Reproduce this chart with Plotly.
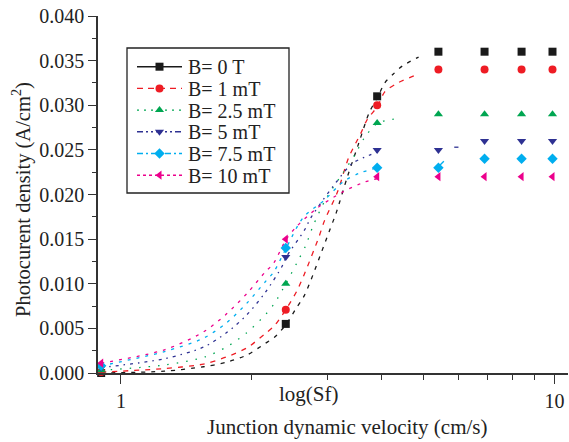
import plotly.graph_objects as go
import math

# ---------------- data ----------------
labels = ["B= 0 T", "B= 1 mT", "B= 2.5 mT", "B= 5 mT", "B= 7.5 mT", "B= 10 mT"]

marker_x = [0.9, 2.4, 3.9, 5.4, 6.9, 8.4, 9.9]
marker_y_0T = [0.0000, 0.0055, 0.0310, 0.0360, 0.0360, 0.0360, 0.0360]
marker_y_1mT = [0.0001, 0.0071, 0.0300, 0.0340, 0.0340, 0.0340, 0.0340]
marker_y_2_5mT = [0.0003, 0.0100, 0.0280, 0.0290, 0.0290, 0.0290, 0.0290]
marker_y_5mT = [0.0006, 0.0130, 0.0250, 0.0250, 0.0260, 0.0260, 0.0260]
marker_y_7_5mT = [0.0008, 0.0140, 0.0230, 0.0230, 0.0240, 0.0240, 0.0240]
marker_y_10mT = [0.0011, 0.0150, 0.0220, 0.0220, 0.0220, 0.0220, 0.0220]

curve_x_0T = [0.9, 1.26, 1.55, 1.75, 1.95, 2.15, 2.26, 2.40, 2.54, 2.65, 3.03, 3.14, 3.33, 3.54, 3.74, 3.91, 4.06, 4.25, 4.46, 4.86]
curve_y_0T = [0.0, 0.0002, 0.0007, 0.0012, 0.0020, 0.0033, 0.0040, 0.0054, 0.0073, 0.0087, 0.0160, 0.0180, 0.0220, 0.0258, 0.0292, 0.0309, 0.0325, 0.0335, 0.0344, 0.0354]
curve_x_1mT = [0.9, 1.26, 1.55, 1.75, 1.95, 2.15, 2.26, 2.40, 2.54, 2.65, 2.86, 2.95, 3.16, 3.35, 3.57, 3.70, 3.91, 4.06, 4.35, 4.86]
curve_y_1mT = [0.0001, 0.0005, 0.0010, 0.0018, 0.0028, 0.0044, 0.0053, 0.0071, 0.0091, 0.0111, 0.0152, 0.0171, 0.0203, 0.0241, 0.0268, 0.0284, 0.0299, 0.0315, 0.0325, 0.0335]
curve_x_2_5mT = [0.9, 1.26, 1.56, 1.75, 1.95, 2.16, 2.26, 2.40, 2.55, 2.67, 2.77, 2.97, 3.25, 3.46, 3.65, 3.91, 4.35]
curve_y_2_5mT = [0.0003, 0.0009, 0.0018, 0.0029, 0.0045, 0.0066, 0.0078, 0.0100, 0.0124, 0.0143, 0.0164, 0.0195, 0.0224, 0.0244, 0.0264, 0.0280, 0.0285]
curve_x_5mT = [0.9, 1.26, 1.55, 1.75, 1.95, 2.15, 2.35, 2.40, 2.65, 2.75, 3.14, 3.42, 3.74, 3.91]
curve_y_5mT = [0.0006, 0.0016, 0.0029, 0.0045, 0.0065, 0.0090, 0.0119, 0.0129, 0.0160, 0.0175, 0.0214, 0.0235, 0.0244, 0.0248]
curve_x_7_5mT = [0.9, 1.26, 1.55, 1.75, 1.95, 2.15, 2.25, 2.40, 2.63, 2.95, 3.25, 3.55, 3.91]
curve_y_7_5mT = [0.0008, 0.0024, 0.0039, 0.0056, 0.0078, 0.0102, 0.0113, 0.0139, 0.0174, 0.0194, 0.0214, 0.0224, 0.0230]
curve_x_10mT = [0.9, 1.26, 1.55, 1.75, 1.96, 2.15, 2.25, 2.40, 2.54, 2.84, 3.25, 3.65, 3.91]
curve_y_10mT = [0.0011, 0.0026, 0.0046, 0.0066, 0.0090, 0.0113, 0.0123, 0.0149, 0.0164, 0.0185, 0.0203, 0.0214, 0.0218]

# isolated dots of the curves beyond the 3.9 markers
tail_x_5mT = [5.94]
tail_y_5mT = [0.0253]
tail_x_7_5mT = [5.50]
tail_y_7_5mT = [0.0235]

y_tick_vals = [0.000, 0.005, 0.010, 0.015, 0.020, 0.025, 0.030, 0.035, 0.040]
x_tick_vals = [1, 10]
x_tick_text = ["1", "10"]
x_minor_vals = [2, 3, 4, 5, 6, 7, 8, 9]

# ---------------- styles ----------------
colors = ["#1a1a1a", "#ee1c24", "#00a651", "#2e3192", "#00aeef", "#ec008c"]
symbols = ["square", "circle", "triangle-up", "triangle-down", "diamond", "triangle-left"]
legend_dash = ["solid", "6px,5px", "2px,5px", "6px,3px,2px,3px,2px,3px", "6px,3px,2px,3px", "3px,3px"]
curve_dash = ["4px,6px", "5px,6px", "1.5px,8px", "3px,5px,1.5px,5px", "3px,6px", "3px,6px"]

marker_sets = [marker_y_0T, marker_y_1mT, marker_y_2_5mT, marker_y_5mT, marker_y_7_5mT, marker_y_10mT]
curve_sets = [(curve_x_0T, curve_y_0T), (curve_x_1mT, curve_y_1mT), (curve_x_2_5mT, curve_y_2_5mT),
              (curve_x_5mT, curve_y_5mT), (curve_x_7_5mT, curve_y_7_5mT), (curve_x_10mT, curve_y_10mT)]

FONT = "Liberation Serif"
TXT = "#222"

W, H = 569, 442
L, R, T, B = 98, 1, 16, 69
pw = W - L - R
ph = H - T - B

def px_to_paper_x(px):
    return (px - L) / pw

def px_to_paper_y(py):
    return (H - B - py) / ph

fig = go.Figure()

for i in range(6):
    cx, cy = curve_sets[i]
    fig.add_trace(go.Scatter(x=cx, y=cy, mode="lines",
                             line=dict(color=colors[i], width=1.3, dash=curve_dash[i], shape="spline", smoothing=0.8),
                             showlegend=False, hoverinfo="skip"))

fig.add_trace(go.Scatter(x=tail_x_5mT, y=tail_y_5mT, mode="markers",
                         marker=dict(color=colors[3], symbol="line-ew-open", size=3, line=dict(width=1.3, color=colors[3])),
                         showlegend=False, hoverinfo="skip"))
fig.add_trace(go.Scatter(x=tail_x_7_5mT, y=tail_y_7_5mT, mode="markers",
                         marker=dict(color=colors[4], symbol="line-ne-open", size=4, line=dict(width=1.3, color=colors[4])),
                         showlegend=False, hoverinfo="skip"))

for i in range(6):
    fig.add_trace(go.Scatter(x=marker_x, y=marker_sets[i], mode="markers", name=labels[i],
                             marker=dict(color=colors[i], symbol=symbols[i], size=8),
                             cliponaxis=False, showlegend=False))

# ---------- hand-drawn legend (overlay axes in paper-like 0..1 units) ----------
leg_left, leg_right, leg_top, leg_bottom = 127, 289, 48, 193
row0, row_step = 66.7, 21.7
line_x0, line_x1, text_x = 137, 182, 186
shapes = [dict(type="rect", xref="paper", yref="paper",
               x0=px_to_paper_x(leg_left), x1=px_to_paper_x(leg_right),
               y0=px_to_paper_y(leg_bottom), y1=px_to_paper_y(leg_top),
               line=dict(color=TXT, width=1.3), fillcolor="white", layer="below")]
annotations = []
for i in range(6):
    ry = row0 + row_step * i
    shapes.append(dict(type="line", xref="paper", yref="paper",
                       x0=px_to_paper_x(line_x0), x1=px_to_paper_x(line_x1),
                       y0=px_to_paper_y(ry), y1=px_to_paper_y(ry),
                       line=dict(color=colors[i], width=1.4, dash=legend_dash[i]), layer="above"))
    annotations.append(dict(text=labels[i], xref="paper", yref="paper",
                            x=px_to_paper_x(text_x), y=px_to_paper_y(ry + 0.5),
                            xanchor="left", yanchor="middle", showarrow=False,
                            font=dict(family=FONT, size=20, color=TXT)))
    fig.add_trace(go.Scatter(x=[px_to_paper_x((line_x0 + line_x1) / 2)], y=[px_to_paper_y(ry)],
                             xaxis="x2", yaxis="y2", mode="markers",
                             marker=dict(color=colors[i], symbol=symbols[i], size=8),
                             cliponaxis=False, showlegend=False, hoverinfo="skip"))

annotations += [
    dict(text="log(Sf)", xref="paper", yref="paper", x=px_to_paper_x(309), y=px_to_paper_y(394),
         showarrow=False, xanchor="center", yanchor="middle", font=dict(family=FONT, size=21, color=TXT)),
    dict(text="Junction dynamic velocity (cm/s)", xref="paper", yref="paper",
         x=px_to_paper_x(347), y=px_to_paper_y(427), showarrow=False, xanchor="center", yanchor="middle",
         font=dict(family=FONT, size=21, color=TXT)),
    dict(text="Photocurent density (A/cm<sup>2</sup>)", xref="paper", yref="paper", textangle=-90,
         x=px_to_paper_x(22), y=px_to_paper_y(200), showarrow=False, xanchor="center", yanchor="middle",
         font=dict(family=FONT, size=20.5, color=TXT)),
]

fig.update_layout(
    width=W, height=H,
    margin=dict(l=L, r=R, t=T, b=B, autoexpand=False),
    paper_bgcolor="white", plot_bgcolor="white",
    font=dict(family=FONT, size=18, color=TXT),
    showlegend=False,
    xaxis=dict(type="log", range=[math.log10(0.885), math.log10(10.75)], automargin=False,
               tickvals=x_tick_vals, ticktext=x_tick_text,
               ticks="outside", ticklen=9, tickwidth=1.3, tickcolor="#333",
               minor=dict(tickvals=x_minor_vals, ticks="outside", ticklen=5, tickwidth=1.3, tickcolor="#333"),
               showgrid=False, zeroline=False, showline=True, linecolor="#333", linewidth=1.5,
               tickfont=dict(family=FONT, size=20, color=TXT)),
    yaxis=dict(range=[0, 0.040], tickvals=y_tick_vals, tickformat=".3f", automargin=False,
               ticks="outside", ticklen=8, tickwidth=1.3, tickcolor="#333",
               minor=dict(dtick=0.0025, ticks="outside", ticklen=4, tickwidth=1.3, tickcolor="#333"),
               showgrid=False, zeroline=False, showline=True, linecolor="#333", linewidth=1.5,
               tickfont=dict(family=FONT, size=20, color=TXT)),
    xaxis2=dict(overlaying="x", range=[0, 1], visible=False, fixedrange=True),
    yaxis2=dict(overlaying="y", range=[0, 1], visible=False, fixedrange=True),
    shapes=shapes,
    annotations=annotations,
)

fig.write_html("out.html", config={"displayModeBar": False},
               post_script="document.body.style.margin='0';document.body.style.overflow='hidden';")
